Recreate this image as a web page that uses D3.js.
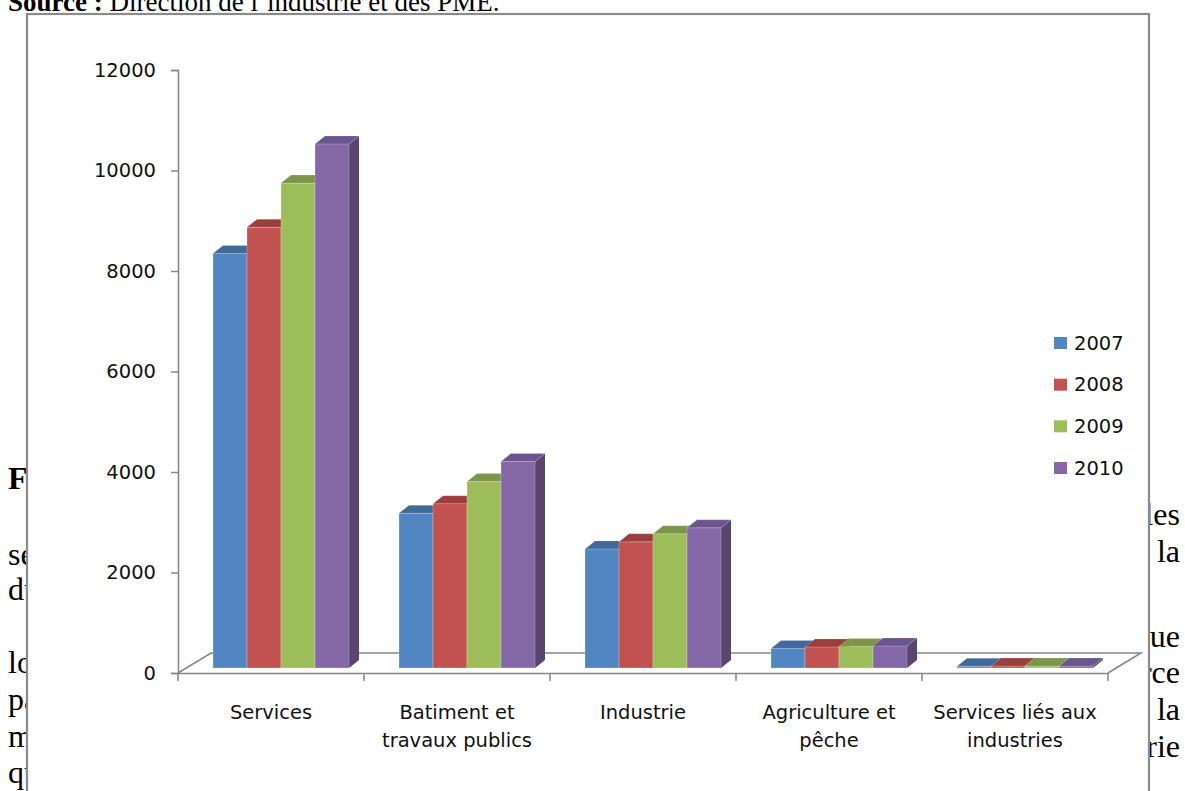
<!DOCTYPE html>
<html>
<head>
<meta charset="utf-8">
<script src="https://cdn.jsdelivr.net/npm/d3@7"></script>
<style>
  html, body { margin: 0; padding: 0; background: #fff; }
  svg { display: block; }
</style>
</head>
<body>
<svg id="chart" width="1185" height="791"></svg>
<script>
// ---- data ----
const categories = ["Services", "Batiment et travaux publics", "Industrie", "Agriculture et pêche", "Services liés aux industries"];
const categoryLines = [["Services"], ["Batiment et", "travaux publics"], ["Industrie"], ["Agriculture et", "pêche"], ["Services liés aux", "industries"]];
const years = ["2007", "2008", "2009", "2010"];
const v2007 = [8250, 3080, 2370, 390, 35];
const v2008 = [8770, 3270, 2510, 420, 40];
const v2009 = [9650, 3710, 2670, 430, 40];
const v2010 = [10430, 4110, 2790, 440, 40];
const yTicks = [0, 2000, 4000, 6000, 8000, 10000, 12000];
const seriesValues = [v2007, v2008, v2009, v2010];

// document text around the chart
const leftWords = [
  {t: "Figure", y: 489, bold: true},
  {t: "secteurs", y: 565},
  {t: "du", y: 600},
  {t: "lors", y: 673},
  {t: "par", y: 710},
  {t: "mais", y: 747},
  {t: "qui", y: 783}
];
const rightWords = [
  {t: "les", y: 525},
  {t: "de la", y: 562},
  {t: "que", y: 647},
  {t: "force", y: 683},
  {t: "de la", y: 720},
  {t: "industrie", y: 757}
];

// ---- styles ----
const frontCol = ["#5286C3", "#C2524F", "#9DBD5A", "#8468A7"];
const topCol = ["#41699A", "#9A3F3D", "#7C9548", "#6A558F"];
const sideCol = ["#375C89", "#853533", "#6A8139", "#5A4470"];

const svg = d3.select("#chart");
const serif = "'Liberation Serif', 'Times New Roman', serif";
const sans = "'DejaVu Sans', Verdana, sans-serif";

// background document
const srcText = svg.append("text").attr("x", 8).attr("y", 11)
  .attr("font-family", serif).attr("font-size", 27).attr("fill", "#000");
srcText.append("tspan").attr("font-weight", "bold").text("Source :");
srcText.append("tspan").text(" Direction de l’industrie et des PME.");

svg.selectAll("text.lw").data(leftWords).join("text").attr("class", "lw")
  .attr("x", 8).attr("y", d => d.y)
  .attr("font-family", serif).attr("font-size", 32)
  .attr("font-weight", d => d.bold ? "bold" : "normal")
  .attr("fill", "#000").text(d => d.t);

svg.selectAll("text.rw").data(rightWords).join("text").attr("class", "rw")
  .attr("x", 1180).attr("y", d => d.y).attr("text-anchor", "end")
  .attr("font-family", serif).attr("font-size", 32)
  .attr("fill", "#000").text(d => d.t);

// chart box
svg.append("rect").attr("x", 27).attr("y", 14).attr("width", 1122).attr("height", 820)
  .attr("fill", "#fff").attr("stroke", "#8a8a8a").attr("stroke-width", 2.2);

// scales
const x = d3.scaleBand().domain(categories).range([178, 1108]).padding(0);
const y = d3.scaleLinear().domain([0, 12000]).range([673, 70]);
const inner = d3.scaleBand().domain(years).range([35, 171]).padding(0);

const axisColor = "#868686";
const floorDx = 33, floorDy = 20;     // floor depth
const barShiftY = 5;                 // bars sit slightly back on the floor
const depthDx = 10, depthDy = 8;     // bar depth

// floor outline (behind bars)
const xa = x.range()[0], xb = x.range()[1], y0 = y(0);
svg.append("path")
  .attr("d", `M${xa},${y0} L${xa + floorDx},${y0 - floorDy} L${xb + floorDx},${y0 - floorDy} L${xb},${y0}`)
  .attr("fill", "none").attr("stroke", axisColor).attr("stroke-width", 1.5);

// y axis
const yAxis = d3.axisLeft(y).tickValues(yTicks).tickFormat(d3.format("d")).tickSize(7).tickPadding(15);
const gy = svg.append("g").attr("transform", `translate(${xa},0)`).call(yAxis);
gy.select(".domain").attr("stroke", axisColor).attr("stroke-width", 1.5);
gy.selectAll(".tick line").attr("stroke", axisColor).attr("stroke-width", 1.5);
gy.selectAll(".tick text").attr("font-family", sans).attr("font-size", 19.5).attr("fill", "#111");

// x axis
const xAxis = d3.axisBottom(x).tickSize(0).tickFormat("");
const gx = svg.append("g").attr("transform", `translate(0,${y0})`).call(xAxis);
gx.select(".domain").attr("stroke", axisColor).attr("stroke-width", 1.5);
gx.selectAll(".tick").remove();
const boundaries = categories.map(c => x(c)).concat([xb]);
gx.selectAll("line.b").data(boundaries).join("line").attr("class", "b")
  .attr("x1", d => d).attr("x2", d => d).attr("y1", 0).attr("y2", 8)
  .attr("stroke", axisColor).attr("stroke-width", 1.5);

// bars
const bars = svg.append("g");
categories.forEach((c, ci) => {
  years.forEach((yr, si) => {
    const v = seriesValues[si][ci];
    const bx0 = x(c) + inner(yr);
    const bx1 = bx0 + inner.bandwidth();
    const yb = y(0) - barShiftY;
    const yt = y(v) - barShiftY;
    const g = bars.append("g");
    g.append("path")
      .attr("d", `M${bx1},${yb} L${bx1},${yt} L${bx1 + depthDx},${yt - depthDy} L${bx1 + depthDx},${yb - depthDy} Z`)
      .attr("fill", sideCol[si]);
    g.append("rect").attr("x", bx0).attr("y", yt).attr("width", bx1 - bx0).attr("height", yb - yt)
      .attr("fill", frontCol[si]).attr("stroke", "rgba(255,255,255,0.35)").attr("stroke-width", 0.7);
    g.append("path")
      .attr("d", `M${bx0},${yt} L${bx0 + depthDx},${yt - depthDy} L${bx1 + depthDx},${yt - depthDy} L${bx1},${yt} Z`)
      .attr("fill", topCol[si]).attr("stroke", "rgba(255,255,255,0.3)").attr("stroke-width", 0.6);
  });
});

// category labels
categories.forEach((c, ci) => {
  const t = svg.append("text").attr("text-anchor", "middle")
    .attr("font-family", sans).attr("font-size", 19.5).attr("fill", "#111");
  categoryLines[ci].forEach((line, li) => {
    t.append("tspan").attr("x", x(c) + x.bandwidth() / 2).attr("y", 719 + li * 28).text(line);
  });
});

// legend
const legendY = d3.scalePoint().domain(years).range([343, 468]);
const lg = svg.append("g");
years.forEach((yr, si) => {
  lg.append("rect").attr("x", 1054).attr("y", legendY(yr) - 6).attr("width", 13).attr("height", 12)
    .attr("fill", frontCol[si]);
  lg.append("text").attr("x", 1074).attr("y", legendY(yr)).attr("dy", "0.35em")
    .attr("font-family", sans).attr("font-size", 19.5).attr("fill", "#111").text(yr);
});
</script>
</body>
</html>
